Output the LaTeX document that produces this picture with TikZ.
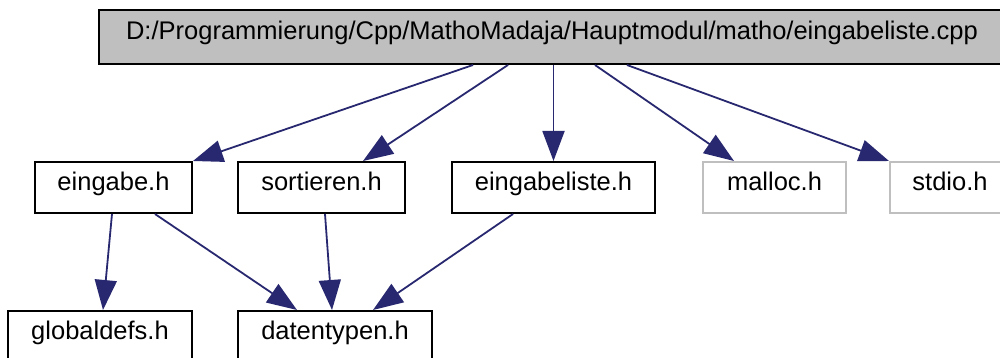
\documentclass[tikz,border=0pt]{standalone}
\usepackage{fontspec}
\setmainfont{Liberation Sans}
\usepackage{tikz}
\usetikzlibrary{arrows.meta}

\definecolor{edgeblue}{RGB}{40,40,112}
\definecolor{boxgray}{RGB}{191,191,191}

\begin{document}
\begin{tikzpicture}[x=1pt,y=-1pt,
graysquarednode/.style={rectangle, draw=black, fill=boxgray, line width=2pt, inner sep=0pt, minimum height=54pt, font=\fontsize{25.5}{30}\selectfont, text height=0.74em, text depth=0.21em},
whitesquarednode/.style={rectangle, draw=black, fill=white, line width=2pt, inner sep=0pt, minimum height=51pt, font=\fontsize{25.5}{30}\selectfont, text height=0.74em, text depth=0.21em},
lightsquarednode/.style={whitesquarednode, draw=boxgray},
dep arrow/.style={-{Triangle[length=30pt,width=22pt]}, draw=edgeblue, fill=edgeblue, line width=1.8pt}
]
\clip (0,0) rectangle (1000,358);
%Nodes
\node[graysquarednode, minimum width=906pt] at (552,37) (CPP) {D:/Programmierung/Cpp/MathoMadaja/Hauptmodul/matho/eingabeliste.cpp};

\node[whitesquarednode, minimum width=157pt] at (113.5,187.5) (EINGABE)      {eingabe.h};
\node[whitesquarednode, minimum width=167pt] at (321.5,187.5) (SORTIEREN)    {sortieren.h};
\node[whitesquarednode, minimum width=203pt] at (553.5,187.5) (EINGABELISTE) {eingabeliste.h};
\node[lightsquarednode, minimum width=143pt] at (774.5,187.5) (MALLOC)       {malloc.h};
\node[lightsquarednode, minimum width=120pt] at (950,187.5)   (STDIO)        {stdio.h};

\node[whitesquarednode, minimum width=184pt] at (100,336.5) (GLOBALDEFS) {globaldefs.h};
\node[whitesquarednode, minimum width=194pt] at (335,336.5) (DATENTYPEN) {datentypen.h};

%Lines
\draw[dep arrow] ([xshift=-79pt]CPP.south) -- (EINGABE.north east);
\draw[dep arrow] ([xshift=-44pt]CPP.south) -- ([xshift=41.5pt]SORTIEREN.north);
\draw[dep arrow] (EINGABELISTE.north |- CPP.south) -- (EINGABELISTE.north);
\draw[dep arrow] ([xshift=43pt]CPP.south) -- ([xshift=-40.5pt]MALLOC.north);
\draw[dep arrow] ([xshift=75pt]CPP.south) -- (STDIO.north west);

\draw[dep arrow] ([xshift=-1.5pt]EINGABE.south) -- ([xshift=3pt]GLOBALDEFS.north);
\draw[dep arrow] ([xshift=41.5pt]EINGABE.south) -- ([xshift=-38pt]DATENTYPEN.north);
\draw[dep arrow] ([xshift=3.5pt]SORTIEREN.south) -- ([xshift=-3pt]DATENTYPEN.north);
\draw[dep arrow] ([xshift=-40.5pt]EINGABELISTE.south) -- ([xshift=38pt]DATENTYPEN.north);
\end{tikzpicture}
\end{document}
